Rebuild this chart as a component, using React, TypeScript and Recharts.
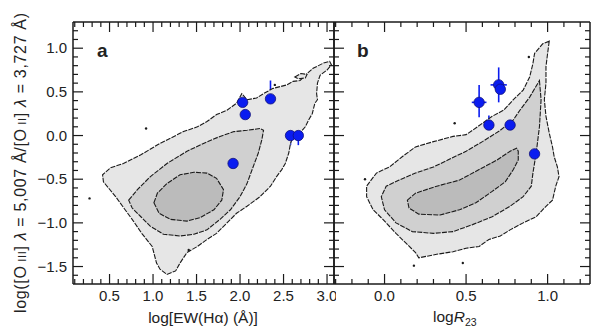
import React from "react";
import { ScatterChart, Scatter, XAxis, YAxis, ErrorBar } from "recharts";

const FONT = '"Liberation Sans", Arial, Helvetica, sans-serif';
const INK = "#1a1a1a";
const BLUE = "#0a1cf0";
const OUTER = "#e6e6e6";
const MIDDLE = "#d0d0d0";
const INNER = "#bbbbbb";

// shared y axis: log([OIII]/[OII])
const ratioDomain = [-1.7, 1.3];
const ratioTicks = [
  -1.6, -1.5, -1.4, -1.3, -1.2, -1.1, -1.0, -0.9, -0.8, -0.7, -0.6, -0.5, -0.4, -0.3, -0.2,
  -0.1, 0, 0.1, 0.2, 0.3, 0.4, 0.5, 0.6, 0.7, 0.8, 0.9, 1.0, 1.1, 1.2,
];

// panel a: log EW(Halpha)
const ewDomain = [0.08, 3.08];
const ewTicks = [
  0.1, 0.2, 0.3, 0.4, 0.5, 0.6, 0.7, 0.8, 0.9, 1.0, 1.1, 1.2, 1.3, 1.4, 1.5, 1.6, 1.7, 1.8,
  1.9, 2.0, 2.1, 2.2, 2.3, 2.4, 2.5, 2.6, 2.7, 2.8, 2.9, 3.0,
];

const ewOuter = [
  { x: 1.16, y: -1.59 }, { x: 1.26, y: -1.55 }, { x: 1.31, y: -1.46 }, { x: 1.39, y: -1.34 },
  { x: 1.51, y: -1.27 }, { x: 1.62, y: -1.19 }, { x: 1.73, y: -1.12 }, { x: 1.85, y: -1.0 },
  { x: 1.96, y: -0.89 }, { x: 2.08, y: -0.81 }, { x: 2.23, y: -0.7 }, { x: 2.35, y: -0.58 },
  { x: 2.42, y: -0.47 }, { x: 2.48, y: -0.39 }, { x: 2.52, y: -0.32 }, { x: 2.56, y: -0.2 },
  { x: 2.58, y: -0.09 }, { x: 2.61, y: -0.01 }, { x: 2.69, y: 0.03 }, { x: 2.75, y: 0.1 },
  { x: 2.79, y: 0.18 }, { x: 2.83, y: 0.25 }, { x: 2.86, y: 0.37 }, { x: 2.89, y: 0.41 },
  { x: 2.88, y: 0.48 }, { x: 2.89, y: 0.6 }, { x: 2.92, y: 0.69 }, { x: 3.0, y: 0.75 },
  { x: 3.05, y: 0.81 }, { x: 3.03, y: 0.85 }, { x: 2.96, y: 0.83 }, { x: 2.84, y: 0.77 },
  { x: 2.77, y: 0.71 }, { x: 2.69, y: 0.63 }, { x: 2.61, y: 0.62 }, { x: 2.54, y: 0.58 },
  { x: 2.38, y: 0.54 }, { x: 2.27, y: 0.48 }, { x: 2.19, y: 0.43 }, { x: 2.08, y: 0.41 },
  { x: 2.02, y: 0.48 }, { x: 1.96, y: 0.37 }, { x: 1.85, y: 0.29 }, { x: 1.73, y: 0.24 },
  { x: 1.62, y: 0.16 }, { x: 1.51, y: 0.1 }, { x: 1.35, y: 0.045 }, { x: 1.2, y: -0.03 },
  { x: 1.08, y: -0.09 }, { x: 0.86, y: -0.22 }, { x: 0.66, y: -0.32 }, { x: 0.51, y: -0.37 },
  { x: 0.42, y: -0.45 }, { x: 0.43, y: -0.53 }, { x: 0.57, y: -0.7 }, { x: 0.65, y: -0.81 },
  { x: 0.76, y: -0.96 }, { x: 0.87, y: -1.12 }, { x: 0.99, y: -1.27 }, { x: 1.04, y: -1.46 },
  { x: 1.08, y: -1.53 },
];
const ewIsland = [
  { x: 2.63, y: 0.67 }, { x: 2.7, y: 0.71 }, { x: 2.77, y: 0.7 }, { x: 2.75, y: 0.66 }, { x: 2.67, y: 0.65 },
];
const ewMiddle = [
  { x: 0.72, y: -0.74 }, { x: 0.82, y: -0.62 }, { x: 0.97, y: -0.47 }, { x: 1.16, y: -0.32 },
  { x: 1.39, y: -0.18 }, { x: 1.58, y: -0.09 }, { x: 1.77, y: -0.01 }, { x: 1.93, y: 0.045 },
  { x: 2.08, y: 0.06 }, { x: 2.23, y: 0.08 }, { x: 2.27, y: 0.06 }, { x: 2.25, y: -0.05 },
  { x: 2.21, y: -0.2 }, { x: 2.15, y: -0.36 }, { x: 2.08, y: -0.55 }, { x: 2.0, y: -0.7 },
  { x: 1.89, y: -0.85 }, { x: 1.77, y: -0.96 }, { x: 1.62, y: -1.08 }, { x: 1.47, y: -1.13 },
  { x: 1.31, y: -1.15 }, { x: 1.12, y: -1.13 }, { x: 0.97, y: -1.04 }, { x: 0.86, y: -0.93 },
  { x: 0.76, y: -0.83 },
];
const ewInner = [
  { x: 1.01, y: -0.77 }, { x: 1.05, y: -0.66 }, { x: 1.16, y: -0.55 }, { x: 1.31, y: -0.45 },
  { x: 1.47, y: -0.42 }, { x: 1.62, y: -0.43 }, { x: 1.73, y: -0.49 }, { x: 1.81, y: -0.62 },
  { x: 1.79, y: -0.74 }, { x: 1.7, y: -0.85 }, { x: 1.54, y: -0.94 }, { x: 1.39, y: -0.98 },
  { x: 1.2, y: -0.96 }, { x: 1.07, y: -0.89 },
];
const ewStray = [{ x: 0.27, y: -0.72 }, { x: 0.92, y: 0.08 }, { x: 2.4, y: 0.58 }, { x: 1.41, y: -1.31 }];
const ewPoints = [
  { x: 2.03, y: 0.38, ey: 0 },
  { x: 2.06, y: 0.24, ey: 0.19 },
  { x: 2.35, y: 0.42, ey: [0.17, 0.21] },
  { x: 2.58, y: 0.0, ey: 0.11 },
  { x: 2.67, y: 0.0, ey: 0.11 },
  { x: 1.92, y: -0.32, ey: 0 },
];

// panel b: log R23
const r23Domain = [-0.31, 1.26];
const r23Ticks = [-0.3, -0.2, -0.1, 0, 0.1, 0.2, 0.3, 0.4, 0.5, 0.6, 0.7, 0.8, 0.9, 1.0, 1.1, 1.2];

const r23Outer = [
  { x: 1.01, y: 1.08 }, { x: 1.0, y: 0.94 }, { x: 0.99, y: 0.79 }, { x: 0.99, y: 0.6 },
  { x: 0.98, y: 0.41 }, { x: 0.99, y: 0.22 }, { x: 1.01, y: 0.03 }, { x: 1.03, y: -0.13 },
  { x: 1.04, y: -0.24 }, { x: 1.06, y: -0.36 }, { x: 1.07, y: -0.47 }, { x: 1.05, y: -0.58 },
  { x: 1.03, y: -0.74 }, { x: 0.99, y: -0.81 }, { x: 0.93, y: -0.93 }, { x: 0.85, y: -1.0 },
  { x: 0.77, y: -1.08 }, { x: 0.71, y: -1.15 }, { x: 0.64, y: -1.19 }, { x: 0.58, y: -1.27 },
  { x: 0.5, y: -1.29 }, { x: 0.42, y: -1.33 }, { x: 0.32, y: -1.36 }, { x: 0.21, y: -1.4 },
  { x: 0.19, y: -1.34 }, { x: 0.13, y: -1.23 }, { x: 0.07, y: -1.12 }, { x: -0.01, y: -0.96 },
  { x: -0.07, y: -0.85 }, { x: -0.11, y: -0.7 }, { x: -0.11, y: -0.58 }, { x: -0.05, y: -0.43 },
  { x: 0.03, y: -0.36 }, { x: 0.11, y: -0.24 }, { x: 0.19, y: -0.13 }, { x: 0.3, y: -0.07 },
  { x: 0.42, y: -0.01 }, { x: 0.5, y: 0.01 }, { x: 0.54, y: 0.06 }, { x: 0.6, y: 0.14 },
  { x: 0.66, y: 0.22 }, { x: 0.73, y: 0.29 }, { x: 0.79, y: 0.41 }, { x: 0.85, y: 0.52 },
  { x: 0.89, y: 0.67 }, { x: 0.91, y: 0.825 }, { x: 0.92, y: 0.94 }, { x: 0.97, y: 1.05 },
];
const r23Middle = [
  { x: 0.95, y: 0.63 }, { x: 0.96, y: 0.41 }, { x: 0.95, y: 0.1 }, { x: 0.93, y: -0.2 },
  { x: 0.91, y: -0.43 }, { x: 0.9, y: -0.58 }, { x: 0.85, y: -0.7 }, { x: 0.77, y: -0.81 },
  { x: 0.66, y: -0.93 }, { x: 0.54, y: -1.02 }, { x: 0.42, y: -1.1 }, { x: 0.3, y: -1.12 },
  { x: 0.17, y: -1.1 }, { x: 0.07, y: -1.0 }, { x: 0.0, y: -0.85 }, { x: -0.02, y: -0.7 },
  { x: 0.01, y: -0.58 }, { x: 0.09, y: -0.51 }, { x: 0.19, y: -0.43 }, { x: 0.3, y: -0.36 },
  { x: 0.4, y: -0.27 }, { x: 0.5, y: -0.18 }, { x: 0.6, y: -0.07 }, { x: 0.71, y: 0.06 },
  { x: 0.79, y: 0.18 }, { x: 0.83, y: 0.29 }, { x: 0.89, y: 0.44 },
];
const r23Inner = [
  { x: 0.14, y: -0.74 }, { x: 0.19, y: -0.66 }, { x: 0.32, y: -0.58 }, { x: 0.46, y: -0.51 },
  { x: 0.58, y: -0.39 }, { x: 0.69, y: -0.28 }, { x: 0.77, y: -0.18 }, { x: 0.81, y: -0.145 },
  { x: 0.82, y: -0.18 }, { x: 0.82, y: -0.28 }, { x: 0.79, y: -0.39 }, { x: 0.74, y: -0.53 },
  { x: 0.66, y: -0.64 }, { x: 0.56, y: -0.77 }, { x: 0.46, y: -0.85 }, { x: 0.34, y: -0.91 },
  { x: 0.21, y: -0.9 }, { x: 0.15, y: -0.83 },
];
const r23Stray = [{ x: 0.43, y: 0.14 }, { x: -0.12, y: -0.5 }, { x: 0.48, y: -1.46 }, { x: 0.18, y: -1.49 }, { x: 0.885, y: 0.9 }];
const r23Points = [
  { x: 0.58, y: 0.38, ex: 0.045, ey: [0.17, 0.2] },
  { x: 0.7, y: 0.58, ex: 0.05, ey: 0.2 },
  { x: 0.71, y: 0.53, ex: 0, ey: 0 },
  { x: 0.64, y: 0.12, ex: 0.045, ey: 0.11 },
  { x: 0.77, y: 0.12, ex: 0.05, ey: 0.11 },
  { x: 0.92, y: -0.21, ex: 0, ey: 0 },
];

const fmt = (v: number) => v.toFixed(1).replace("-", "\u2212");

function axisTick(side: "bottom" | "top" | "left" | "right", labelled: boolean) {
  return function Tick(props: any) {
    const { x, y, payload } = props;
    const v = Number(payload.value);
    const major = Math.abs(v * 2 - Math.round(v * 2)) < 1e-6;
    const len = major ? 10 : 5;
    let x2 = x;
    let y2 = y;
    if (side === "bottom") y2 = y - len;
    if (side === "top") y2 = y + len;
    if (side === "left") x2 = x + len;
    if (side === "right") x2 = x - len;
    return (
      <g>
        <line x1={x} y1={y} x2={x2} y2={y2} stroke={INK} strokeWidth={1.2} />
        {labelled && major && side === "bottom" && (
          <text x={x} y={y + 17} textAnchor="middle" fontSize={15} fontFamily={FONT} fill="#222">
            {fmt(v)}
          </text>
        )}
        {labelled && major && side === "left" && (
          <text x={x - 6} y={y + 5} textAnchor="end" fontSize={15} fontFamily={FONT} fill="#222">
            {fmt(v)}
          </text>
        )}
      </g>
    );
  };
}

const noPoint = () => <g />;
const strayDot = (p: any) => <circle cx={p.cx} cy={p.cy} r={1.2} fill={INK} />;
const bigDot = (p: any) => (
  <circle cx={p.cx} cy={p.cy} r={5.2} fill={BLUE} stroke="#12127a" strokeWidth={0.8} />
);

const contourLine = (fill: string) => ({
  fill,
  stroke: INK,
  strokeWidth: 1.1,
  strokeDasharray: "5 1.2",
});

function axes(domain: number[], ticks: number[], labelX: boolean, labelY: boolean, leftW: number, rightW: number) {
  const line = { stroke: INK, strokeWidth: 1.5 };
  return [
    <XAxis key="xb" xAxisId={0} type="number" dataKey="x" domain={domain} ticks={ticks} interval={0}
      allowDataOverflow height={44} tickSize={0} tickMargin={0} tickLine={false} axisLine={line}
      tick={axisTick("bottom", labelX)} />,
    <XAxis key="xt" xAxisId="top" orientation="top" type="number" dataKey="x" domain={domain} ticks={ticks}
      interval={0} allowDataOverflow height={22} tickSize={0} tickMargin={0} tickLine={false} axisLine={line}
      tick={axisTick("top", false)} />,
    <YAxis key="yl" yAxisId={0} type="number" dataKey="y" domain={ratioDomain} ticks={ratioTicks} interval={0}
      allowDataOverflow width={leftW} tickSize={0} tickMargin={0} tickLine={false} axisLine={line}
      tick={axisTick("left", labelY)} />,
    <YAxis key="yr" yAxisId="r" orientation="right" type="number" dataKey="y" domain={ratioDomain}
      ticks={ratioTicks} interval={0} allowDataOverflow width={rightW} tickSize={0} tickMargin={0}
      tickLine={false} axisLine={line} tick={axisTick("right", false)} />,
  ];
}

export default function App() {
  return (
    <div style={{ position: "absolute", left: 0, top: 0, width: 593, height: 328, background: "#fff" }}>
      <div style={{ position: "absolute", left: 0, top: 0 }}>
        <ScatterChart width={336} height={328} margin={{ top: 0, right: 0, bottom: 0, left: 0 }}>
          {axes(ewDomain, ewTicks, true, true, 73, 2)}
          <Scatter data={ewOuter} line={contourLine(OUTER)} lineJointType="linearClosed" shape={noPoint} isAnimationActive={false} />
          <Scatter data={ewIsland} line={contourLine(OUTER)} lineJointType="linearClosed" shape={noPoint} isAnimationActive={false} />
          <Scatter data={ewMiddle} line={contourLine(MIDDLE)} lineJointType="linearClosed" shape={noPoint} isAnimationActive={false} />
          <Scatter data={ewInner} line={contourLine(INNER)} lineJointType="linearClosed" shape={noPoint} isAnimationActive={false} />
          <Scatter data={ewStray} shape={strayDot} isAnimationActive={false} />
          <Scatter data={ewPoints} shape={bigDot} isAnimationActive={false}>
            <ErrorBar dataKey="ey" direction="y" width={0} stroke={BLUE} strokeWidth={1.6} />
          </Scatter>
        </ScatterChart>
      </div>
      <div style={{ position: "absolute", left: 332, top: 0 }}>
        <ScatterChart width={261} height={328} margin={{ top: 0, right: 0, bottom: 0, left: 0 }}>
          {axes(r23Domain, r23Ticks, true, false, 2, 3)}
          <Scatter data={r23Outer} line={contourLine(OUTER)} lineJointType="linearClosed" shape={noPoint} isAnimationActive={false} />
          <Scatter data={r23Middle} line={contourLine(MIDDLE)} lineJointType="linearClosed" shape={noPoint} isAnimationActive={false} />
          <Scatter data={r23Inner} line={contourLine(INNER)} lineJointType="linearClosed" shape={noPoint} isAnimationActive={false} />
          <Scatter data={r23Stray} shape={strayDot} isAnimationActive={false} />
          <Scatter data={r23Points} shape={bigDot} isAnimationActive={false}>
            <ErrorBar dataKey="ey" direction="y" width={0} stroke={BLUE} strokeWidth={1.6} />
            <ErrorBar dataKey="ex" direction="x" width={0} stroke={BLUE} strokeWidth={1.6} />
          </Scatter>
        </ScatterChart>
      </div>
      <svg width={593} height={328} style={{ position: "absolute", left: 0, top: 0, pointerEvents: "none" }}
        fontFamily={FONT} fill="#222">
        <text x={97} y={57} fontSize={19} fontWeight="bold">a</text>
        <text x={357} y={57} fontSize={19} fontWeight="bold">b</text>
        <text transform="translate(26,163) rotate(-90)" textAnchor="middle" fontSize={16}
          textLength={300} lengthAdjust="spacing">
          log([O<tspan fontSize={11}> III</tspan>] <tspan fontStyle="italic">λ</tspan> = 5,007 Å/[O
          <tspan fontSize={11}> II</tspan>] <tspan fontStyle="italic">λ</tspan> = 3,727 Å)
        </text>
        <text x={203} y={323} textAnchor="middle" fontSize={15.5}>log[EW(Hα) (Å)]</text>
        <text x={433} y={322} fontSize={15.5}>
          log<tspan fontStyle="italic">R</tspan>
          <tspan fontSize={10.5} dy={4}>23</tspan>
        </text>
      </svg>
    </div>
  );
}
